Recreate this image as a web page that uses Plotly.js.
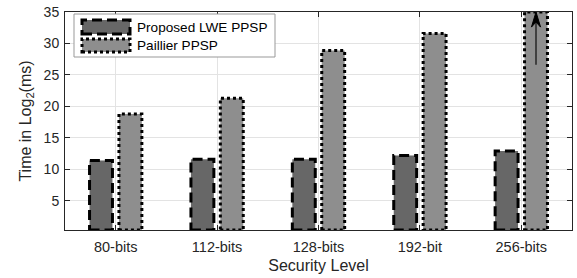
<!DOCTYPE html>
<html><head><meta charset="utf-8">
<script src="https://cdn.plot.ly/plotly-3.0.1.min.js"></script>
<style>html,body{margin:0;padding:0;background:#fff}#chart{width:577px;height:278px}</style>
</head><body><div id="chart"></div>
<script>
var categories = ['80-bits','112-bits','128-bits','192-bit','256-bits'];
var lweValues = [11.4, 11.6, 11.6, 12.2, 12.9];
var paillierValues = [18.8, 21.3, 28.9, 31.6, 35];
var seriesNames = ['Proposed LWE PPSP', 'Paillier PPSP'];
var yTicks = [5, 10, 15, 20, 25, 30, 35];

var font = 'Liberation Sans, Arial, sans-serif';
var ink = '#262626';
var darkFill = '#676767', lightFill = '#8e8e8e';
var barW = 0.226, offDark = -0.258, offLight = 0.032;
var yMin = 0.35, yMax = 35;
var xs = categories.map(function(c,i){return i+1;});

var traces = [
  {type:'bar', x:xs, y:lweValues, width:barW, offset:offDark, marker:{color:darkFill}, showlegend:false, hoverinfo:'skip'},
  {type:'bar', x:xs, y:paillierValues, width:barW, offset:offLight, marker:{color:lightFill}, showlegend:false, hoverinfo:'skip'}
];

var shapes = [];
xs.forEach(function(x,i){
  shapes.push({type:'rect', xref:'x', yref:'y', x0:x+offDark, x1:x+offDark+barW, y0:yMin, y1:lweValues[i],
    line:{color:'#000', width:3, dash:'10px,5px'}, fillcolor:'rgba(0,0,0,0)', layer:'above'});
  shapes.push({type:'rect', xref:'x', yref:'y', x0:x+offLight, x1:x+offLight+barW, y0:yMin, y1:paillierValues[i],
    line:{color:'#000', width:3, dash:'dot'}, fillcolor:'rgba(0,0,0,0)', layer:'above'});
});

// arrow on the clipped last Paillier bar, built from its data position
var lastX = xs[xs.length-1] + offLight + barW/2;
shapes.push({type:'line', xref:'x', yref:'y', x0:lastX, x1:lastX, y0:26.6, y1:yMax-1.2,
  line:{color:'#000', width:1.1}, layer:'above'});
shapes.push({type:'path', xref:'x', yref:'y',
  path:'M'+(lastX-0.045)+','+(yMax-2.4)+' L'+lastX+','+yMax+' L'+(lastX+0.045)+','+(yMax-2.4)+' L'+lastX+','+(yMax-1.6)+' Z',
  fillcolor:'#000', line:{color:'#000', width:1}, layer:'above'});

// legend (paper coords): plot area l=65, w=507, t=12, h=218
function px(x){return (x-65)/507;}
function py(y){return (230-y)/218;}
shapes.push({type:'rect', xref:'paper', yref:'paper', x0:px(74), x1:px(275), y0:py(57), y1:py(14),
  line:{color:'#999999', width:1}, fillcolor:'#ffffff', layer:'above'});
shapes.push({type:'rect', xref:'paper', yref:'paper', x0:px(82), x1:px(130), y0:py(34), y1:py(20),
  line:{color:'#000', width:3, dash:'10px,5px'}, fillcolor:darkFill, layer:'above'});
shapes.push({type:'rect', xref:'paper', yref:'paper', x0:px(82), x1:px(130), y0:py(52), y1:py(39),
  line:{color:'#000', width:3, dash:'dot'}, fillcolor:lightFill, layer:'above'});

var annotations = [
  {xref:'paper', yref:'paper', x:px(135), y:py(27.5), text:seriesNames[0], showarrow:false, xanchor:'left', yanchor:'middle', font:{family:font, size:13.6, color:'#000'}},
  {xref:'paper', yref:'paper', x:px(135), y:py(45.5), text:seriesNames[1], showarrow:false, xanchor:'left', yanchor:'middle', font:{family:font, size:13.6, color:'#000'}}
];

var layout = {
  width:577, height:278,
  margin:{l:65, r:5, t:12, b:48},
  paper_bgcolor:'#fff', plot_bgcolor:'#fff',
  font:{family:font, color:ink, size:14},
  barmode:'overlay',
  xaxis:{range:[0.5,5.5], tickvals:xs, ticktext:categories, showgrid:true, gridcolor:'#e3e3e3', gridwidth:1,
    ticks:'inside', ticklen:5, tickcolor:ink, showline:true, linecolor:ink, linewidth:1, mirror:'ticks',
    zeroline:false, tickfont:{size:14.5, color:ink}, ticklabelstandoff:4,
    title:{text:'Security Level', font:{size:16, color:ink}, standoff:5}},
  yaxis:{range:[yMin,yMax], tickvals:yTicks, showgrid:true, gridcolor:'#e3e3e3', gridwidth:1,
    ticks:'inside', ticklen:5, tickcolor:ink, showline:true, linecolor:ink, linewidth:1, mirror:'ticks',
    zeroline:false, tickfont:{size:14, color:ink}, ticklabelstandoff:2,
    title:{text:'Time in Log<sub>2</sub>(ms)', font:{size:16, color:ink}, standoff:8}},
  shapes:shapes, annotations:annotations
};
Plotly.newPlot('chart', traces, layout, {staticPlot:true, displayModeBar:false});
</script></body></html>
